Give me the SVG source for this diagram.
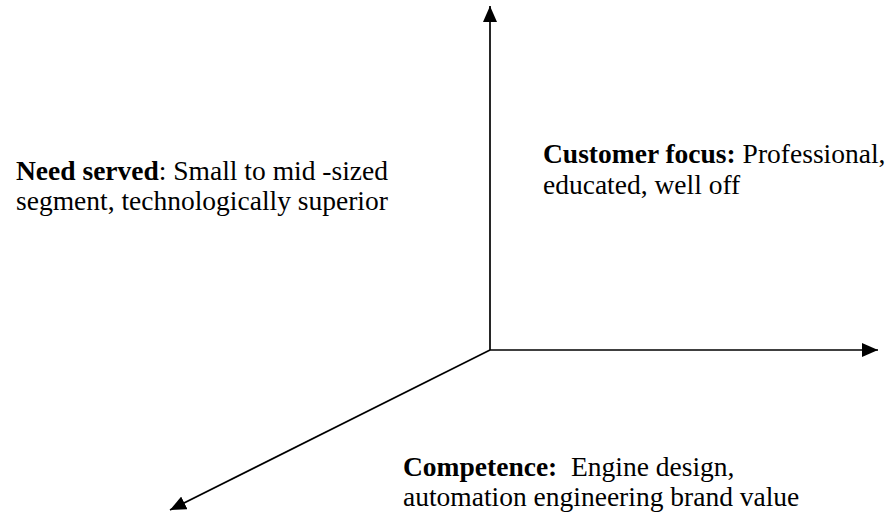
<svg xmlns="http://www.w3.org/2000/svg" width="889" height="514" viewBox="0 0 889 514">
<defs>
<marker id="ah" markerWidth="16" markerHeight="14" refX="16" refY="7" orient="auto" markerUnits="userSpaceOnUse">
<path d="M0,0 L16,7 L0,14 Z" fill="#000"/>
</marker>
<style>
.ax{stroke:#000;stroke-width:1.7;fill:none}
.t{font-family:'Liberation Serif','Times New Roman',Times,serif;font-size:27.5px;font-weight:normal;fill:#000}
.b{font-weight:bold}
</style>
</defs>
<rect width="889" height="514" fill="#fff"/>
<g id="connectors">
<line class="ax" x1="490" y1="350" x2="490" y2="6" marker-end="url(#ah)"/>
<line class="ax" x1="490" y1="350" x2="878" y2="350" marker-end="url(#ah)"/>
<line class="ax" x1="490" y1="350" x2="170" y2="510" marker-end="url(#ah)"/>
</g>
<g id="need-served">
<text class="t" x="16" y="180"><tspan class="b">Need served</tspan>: Small to mid -sized</text>
<text class="t" x="16" y="210">segment, technologically superior</text>
</g>
<g id="customer-focus">
<text class="t" x="543" y="163"><tspan class="b">Customer focus:</tspan> Professional,</text>
<text class="t" x="543" y="194">educated, well off</text>
</g>
<g id="competence">
<text class="t" x="403" y="476" xml:space="preserve"><tspan class="b">Competence:</tspan>  Engine design,</text>
<text class="t" x="403" y="506">automation engineering brand value</text>
</g>
</svg>
